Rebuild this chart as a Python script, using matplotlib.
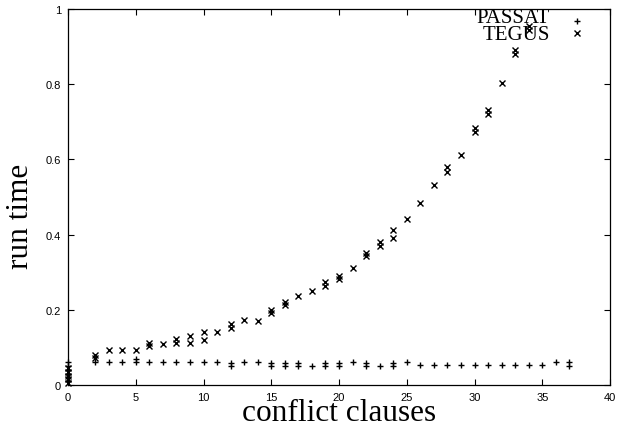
import matplotlib
matplotlib.use("Agg")
from matplotlib import pyplot as plt
from matplotlib.lines import Line2D

# PASSAT run times (several runs per number of conflict clauses)
passat_x = [0, 0, 0, 0, 0, 0,
            2, 3, 4, 5, 5, 6, 7, 8, 9, 10, 11, 12, 12, 13, 14,
            15, 15, 16, 16, 17, 17, 18, 19, 19, 20, 20, 21, 22, 22, 23, 24, 24, 25,
            26, 27, 28, 29, 30, 31, 32, 33, 34, 35, 36, 37, 37]
passat_y = [0.06, 0.05, 0.04, 0.03, 0.02, 0.01,
            0.062, 0.062, 0.062, 0.07, 0.062, 0.062, 0.062, 0.062, 0.062, 0.062, 0.062,
            0.058, 0.051, 0.062, 0.062,
            0.058, 0.05, 0.058, 0.05, 0.058, 0.05, 0.05, 0.058, 0.05, 0.058, 0.05,
            0.062, 0.058, 0.05, 0.05, 0.058, 0.05, 0.062,
            0.053, 0.053, 0.053, 0.053, 0.053, 0.053, 0.053, 0.053, 0.053, 0.053,
            0.062, 0.06, 0.05]

# TEGUS run times
tegus_x = [0, 0, 0, 0, 0,
           2, 2, 3, 4, 5, 6, 6, 7, 8, 8, 9, 9, 10, 10, 11, 12, 12, 13, 14,
           15, 15, 16, 16, 17, 18, 19, 19, 20, 20, 21, 22, 22, 23, 23, 24, 24,
           25, 26, 27, 28, 28, 29, 30, 30, 31, 31, 32, 33, 33, 34, 34]
tegus_y = [0.045, 0.035, 0.025, 0.015, 0.005,
           0.08, 0.072, 0.093, 0.093, 0.093, 0.112, 0.103, 0.11, 0.122, 0.112,
           0.131, 0.111, 0.142, 0.12, 0.142, 0.161, 0.152, 0.172, 0.171,
           0.2, 0.191, 0.222, 0.213, 0.237, 0.25, 0.273, 0.262, 0.291, 0.282,
           0.312, 0.351, 0.342, 0.381, 0.37, 0.412, 0.392,
           0.441, 0.483, 0.533, 0.579, 0.567, 0.612, 0.683, 0.672, 0.732, 0.722,
           0.803, 0.892, 0.881, 0.954, 0.945]

series_names = ["PASSAT", "TEGUS"]
xticks = [0, 5, 10, 15, 20, 25, 30, 35, 40]
yticks = [0, 0.2, 0.4, 0.6, 0.8, 1]
ytick_labels = ["0", "0.2", "0.4", "0.6", "0.8", "1"]

fig = plt.figure(figsize=(6.17, 4.27), dpi=100)
ax = fig.add_axes([0.1102, 0.096, 0.8785, 0.8806])

ax.plot(passat_x, passat_y, "+", color="black", markersize=5, markeredgewidth=1,
        clip_on=False)
ax.plot(tegus_x, tegus_y, "x", color="black", markersize=4.5, markeredgewidth=1,
        clip_on=False)

ax.set_xlim(0, 40)
ax.set_ylim(0, 1)
ax.set_xticks(xticks)
ax.set_xticklabels([str(t) for t in xticks])
ax.set_yticks(yticks)
ax.set_yticklabels(ytick_labels)
ax.tick_params(direction="in", length=4, width=0.8, top=True, right=True,
               labelsize=8, pad=5)
for lbl in ax.get_xticklabels() + ax.get_yticklabels():
    lbl.set_family("Liberation Sans")
for s in ax.spines.values():
    s.set_linewidth(0.9)

ax.set_xlabel("conflict clauses", family="Liberation Serif", fontsize=22.5, labelpad=-3)
ax.set_ylabel("run time", family="Liberation Serif", fontsize=22.5)
ax.yaxis.set_label_coords(-0.0616, 0.452)

# gnuplot-style key: sample markers on the right, names right-aligned to their left
handles = [Line2D([], [], ls="none", marker="+", color="black", markersize=5, markeredgewidth=1),
           Line2D([], [], ls="none", marker="x", color="black", markersize=4.5, markeredgewidth=1)]
ax.legend(handles, ["", ""], loc="upper right", bbox_to_anchor=(0.978, 1.014), frameon=False,
          markerfirst=False, prop={"family": "Liberation Serif", "size": 15},
          labelspacing=-0.39, handlelength=1.0, handletextpad=0, borderpad=0)
for name, yb in zip(series_names, [0.966, 0.920]):
    ax.text(0.889, yb, name, transform=ax.transAxes, ha="right", va="baseline",
            family="Liberation Serif", fontsize=15)

fig.savefig("out.png", dpi=100)
